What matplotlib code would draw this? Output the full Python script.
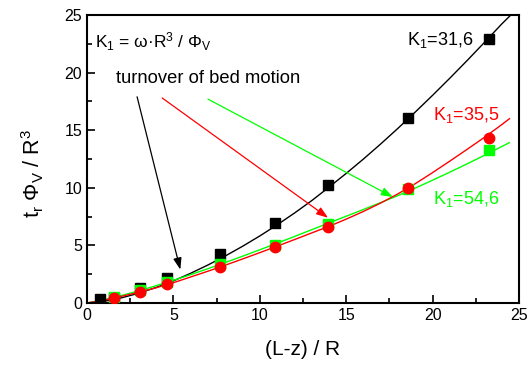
import matplotlib
matplotlib.use("Agg")
import matplotlib.pyplot as plt
from matplotlib.ticker import MultipleLocator

plt.rcParams['font.family'] = ['Liberation Sans', 'DejaVu Sans']
plt.rcParams['mathtext.fontset'] = 'custom'
plt.rcParams['mathtext.rm'] = 'Liberation Sans'
plt.rcParams['mathtext.it'] = 'Liberation Sans'
plt.rcParams['mathtext.bf'] = 'Liberation Sans'

# measured points
x_k316 = [0.77, 1.54, 3.09, 4.63, 7.72, 10.86, 13.96, 18.6, 23.26]
y_k316 = [0.32, 0.45, 1.27, 2.14, 4.25, 6.95, 10.24, 16.03, 22.9]
x_k355 = [1.54, 3.09, 4.63, 7.72, 10.86, 13.96, 18.6, 23.26]
y_k355 = [0.46, 0.98, 1.62, 3.15, 4.89, 6.62, 9.95, 14.3]
x_k546 = [1.54, 3.09, 4.63, 7.72, 10.86, 13.96, 18.6, 23.26]
y_k546 = [0.55, 1.1, 1.85, 3.38, 5.0, 6.9, 9.9, 13.3]

# fitted curves
fx_k316 = [0, 1, 2, 3, 4, 5, 6, 7, 8, 9, 10, 11, 12, 13, 14, 15, 16, 17, 18, 19, 20, 21, 22, 23, 24, 24.46]
fy_k316 = [0, 0.15, 0.45, 0.85, 1.35, 1.92, 2.58, 3.3, 4.08, 4.92, 5.82, 6.78, 7.8, 8.88, 10.05,
           11.25, 12.5, 13.81, 15.17, 16.58, 18.03, 19.52, 21.05, 22.62, 24.22, 24.9]
fx_k355 = [0, 1, 2, 3, 4, 5, 6, 7, 8, 9, 10, 11, 12, 13, 14, 15, 16, 17, 18, 19, 20, 21, 22, 23, 24, 24.45]
fy_k355 = [0, 0.25, 0.58, 0.93, 1.32, 1.76, 2.26, 2.76, 3.28, 3.82, 4.37, 4.93, 5.5, 6.08, 6.65,
           7.28, 7.95, 8.68, 9.48, 10.36, 11.32, 12.32, 13.34, 14.38, 15.48, 16.0]
fx_k546 = [0, 1, 2, 3, 4, 5, 6, 7, 8, 9, 10, 11, 12, 13, 14, 15, 16, 17, 18, 19, 20, 21, 22, 23, 24, 24.44]
fy_k546 = [0, 0.28, 0.65, 1.06, 1.5, 1.97, 2.46, 2.98, 3.51, 4.06, 4.62, 5.19, 5.77, 6.36, 6.95,
           7.53, 8.12, 8.72, 9.33, 9.98, 10.66, 11.36, 12.08, 12.82, 13.58, 13.92]

# arrows: (start), (tip)
arrow_black = [(2.9, 17.9), (5.4, 2.9)]
arrow_red = [(4.35, 17.8), (13.95, 7.4)]
arrow_green = [(7.0, 17.7), (17.7, 9.2)]

BLACK = "black"
RED = "#ff0000"
GREEN = "#00ff00"

fig = plt.figure(figsize=(5.31, 3.67), dpi=100)
ax = fig.add_axes([0.1638, 0.1744, 0.8136, 0.7847])

ax.plot(fx_k316, fy_k316, color=BLACK, lw=1.0, zorder=2)
ax.plot(fx_k546, fy_k546, color=GREEN, lw=1.0, zorder=2)
ax.plot(fx_k355, fy_k355, color=RED, lw=1.0, zorder=2)
ax.plot(x_k316, y_k316, 's', color=BLACK, ms=7, zorder=3)
ax.plot(x_k546, y_k546, 's', color=GREEN, ms=7, zorder=3)
ax.plot(x_k355, y_k355, 'o', color=RED, ms=7.5, zorder=4)

for (start, tip), col in [(arrow_black, BLACK), (arrow_red, RED), (arrow_green, GREEN)]:
    ax.annotate("", xy=tip, xytext=start,
                arrowprops=dict(arrowstyle='-|>,head_length=0.7,head_width=0.25',
                                color=col, lw=0.9, shrinkA=0, shrinkB=0),
                zorder=5)

ax.text(0.46, 22.2, "K$_1$ = ω·R$^3$ / Φ$_V$", fontsize=12.5, va='baseline', ha='left')
ax.text(1.68, 19.12, "turnover of bed motion", fontsize=13.2, va='baseline', ha='left')
ax.text(22.34, 22.4, r"K$_1$=31,6", fontsize=13, va='baseline', ha='right', color=BLACK)
ax.text(20.0, 15.9, r"K$_1$=35,5", fontsize=13, va='baseline', ha='left', color=RED)
ax.text(20.0, 8.6, r"K$_1$=54,6", fontsize=13, va='baseline', ha='left', color=GREEN)

ax.set_xlim(0, 25)
ax.set_ylim(0, 25)
ax.xaxis.set_major_locator(MultipleLocator(5))
ax.xaxis.set_minor_locator(MultipleLocator(2.5))
ax.yaxis.set_major_locator(MultipleLocator(5))
ax.yaxis.set_minor_locator(MultipleLocator(2.5))
ax.tick_params(which='both', direction='in', top=False, right=False, width=1.2, labelsize=11.5)
ax.tick_params(which='major', length=6)
ax.tick_params(which='minor', length=3.5)
for sp in ax.spines.values():
    sp.set_linewidth(1.5)

ax.set_xlabel("(L-z) / R", fontsize=15)
ax.set_ylabel(r"t$_r$ Φ$_V$ / R$^3$", fontsize=15.5)
ax.xaxis.set_label_coords(0.5, -0.13)
ax.yaxis.set_label_coords(-0.095, 0.45)

fig.savefig("out.png", dpi=100)
